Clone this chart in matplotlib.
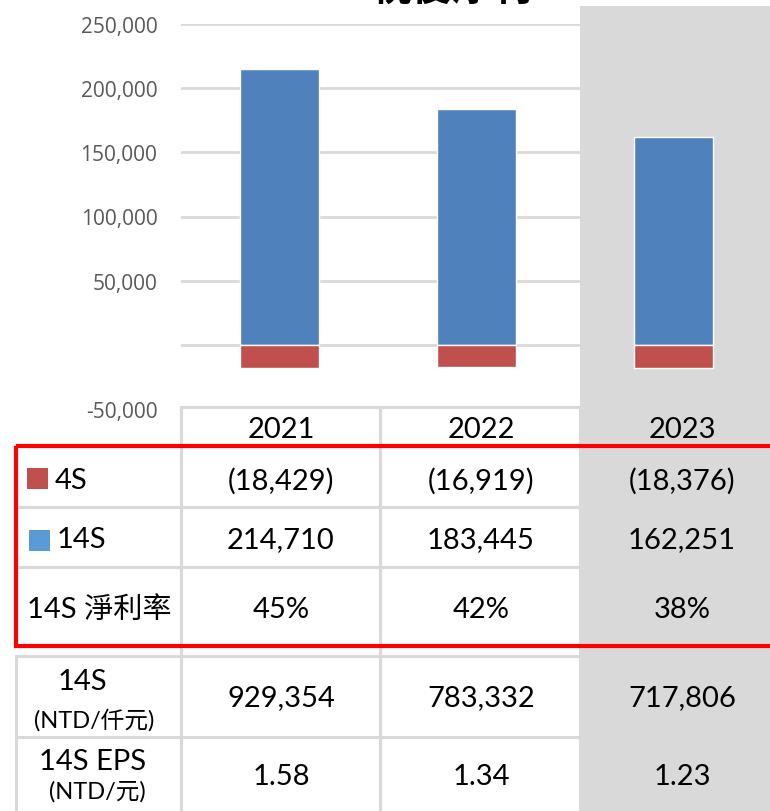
import matplotlib
matplotlib.use("Agg")
import matplotlib.pyplot as plt
from matplotlib.patches import Rectangle

plt.rcParams['font.family'] = ['Lato', 'Noto Sans CJK TC', 'DejaVu Sans']

years = ['2021', '2022', '2023']
net_4s = [-18429, -16919, -18376]
net_14s = [214710, 183445, 162251]
margin_14s = [45, 42, 38]
profit_14s = [929354, 783332, 717806]
eps_14s = [1.58, 1.34, 1.23]
yticks = [-50000, 0, 50000, 100000, 150000, 200000, 250000]

W, H = 770, 812
fig = plt.figure(figsize=(W / 100, H / 100), dpi=100)

# overlay axes in pixel coordinates for the table part
ax0 = fig.add_axes([0, 0, 1, 1], zorder=0)
ax0.set_xlim(0, W)
ax0.set_ylim(H, 0)
ax0.axis('off')

grey = '#d9d9d9'
ax0.add_patch(Rectangle((580, 7), 200, H, color=grey, lw=0, zorder=0))

# bar chart
ax = fig.add_axes([181 / W, (H - 410) / H, (W - 181) / W, 385 / H], zorder=1)
ax.patch.set_alpha(0)
x = list(range(len(years)))
ax.bar(x, net_14s, width=0.4, color='#4f81bd', edgecolor='white', linewidth=1, zorder=2)
ax.bar(x, net_4s, width=0.4, color='#c0504d', edgecolor='white', linewidth=1, zorder=2)
ax.set_xlim(-0.5, 2.49)
ax.set_ylim(-50000, 250000)
ax.set_yticks(yticks)
ax.set_yticklabels(['' if v == 0 else f'{v:,}' for v in yticks],
                   fontsize=15, color='#595959', family='Open Sans')
ax.tick_params(axis='y', length=0, pad=17)
ax.set_xticks([])
for v in yticks:
    ax.axhline(v, color=grey, lw=2, zorder=1)
for s in ax.spines.values():
    s.set_visible(False)

# title (cut off at the top, as in the source)
ax0.text(452, 9, '稅後淨利', ha='center', va='bottom', fontsize=29,
         fontweight='bold', family='Noto Sans CJK TC', zorder=3)

# table grid
lw = 2.2
ax0.plot([181, 580], [408, 408], color=grey, lw=lw)
for yy in [447, 508, 568, 647, 657, 738]:
    ax0.plot([16, 580], [yy, yy], color=grey, lw=lw)
for xx in [181, 380, 580]:
    ax0.plot([xx, xx], [408, 812], color=grey, lw=lw)
ax0.plot([16, 16], [447, 647], color=grey, lw=lw)
ax0.plot([16, 16], [657, 812], color=grey, lw=lw)

col_x = [281, 481, 682]
fs = 21

def fmt_neg(v):
    return f'({abs(v):,})' if v < 0 else f'{v:,}'

for i in range(len(years)):
    ax0.text(col_x[i], 430, years[i], ha='center', va='center', fontsize=fs)
    ax0.text(col_x[i], 481, fmt_neg(net_4s[i]), ha='center', va='center', fontsize=fs)
    ax0.text(col_x[i], 540, f'{net_14s[i]:,}', ha='center', va='center', fontsize=fs)
    ax0.text(col_x[i], 610, f'{margin_14s[i]}%', ha='center', va='center', fontsize=fs)
    ax0.text(col_x[i], 698, f'{profit_14s[i]:,}', ha='center', va='center', fontsize=fs)
    ax0.text(col_x[i], 777, f'{eps_14s[i]:.2f}', ha='center', va='center', fontsize=fs)

# row labels
ax0.add_patch(Rectangle((27, 469), 21, 21, color='#c0504d', lw=0))
ax0.text(55, 481, '4S', ha='left', va='center', fontsize=fs)
ax0.add_patch(Rectangle((29, 531), 21, 21, color='#5b9bd5', lw=0))
ax0.text(57, 540, '14S', ha='left', va='center', fontsize=fs)
ax0.text(27, 610, '14S 淨利率', ha='left', va='center', fontsize=fs)
ax0.text(82, 682, '14S', ha='center', va='center', fontsize=fs)
ax0.text(94, 720, '(NTD/仟元)', ha='center', va='center', fontsize=17)
ax0.text(93, 762, '14S EPS', ha='center', va='center', fontsize=fs)
ax0.text(97, 792, '(NTD/元)', ha='center', va='center', fontsize=17)

# red highlight box
ax0.add_patch(Rectangle((16, 446.5), 770, 200, fill=False, edgecolor='#ff0000',
                        lw=3, zorder=5))

fig.savefig('out.png', dpi=100)
